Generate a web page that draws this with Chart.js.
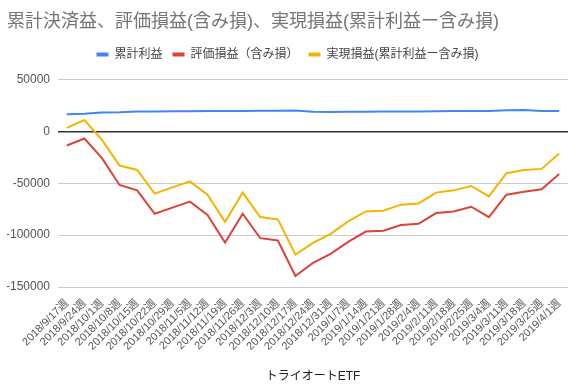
<!DOCTYPE html>
<html>
<head>
<meta charset="utf-8">
<script src="https://cdn.jsdelivr.net/npm/chart.js@4"></script>
<style>
  html, body { margin: 0; padding: 0; background: #fff; }
  #wrap { width: 580px; height: 391px; }
</style>
</head>
<body>
<div id="wrap"><canvas id="chart" width="580" height="391"></canvas></div>
<script>
// Data
const weeks = [
    '2018/9/17週', '2018/9/24週', '2018/10/1週', '2018/10/8週', '2018/10/15週',
    '2018/10/22週', '2018/10/29週', '2018/11/5週', '2018/11/12週', '2018/11/19週',
    '2018/11/26週', '2018/12/3週', '2018/12/10週', '2018/12/17週', '2018/12/24週',
    '2018/12/31週', '2019/1/7週', '2019/1/14週', '2019/1/21週', '2019/1/28週',
    '2019/2/4週', '2019/2/11週', '2019/2/18週', '2019/2/25週', '2019/3/4週',
    '2019/3/11週', '2019/3/18週', '2019/3/25週', '2019/4/1週'
];

const cumulativeProfit = [
    16500, 17000, 18300, 18500, 19200, 19300, 19400, 19500, 19600, 19700,
    19800, 19900, 20000, 20200, 19000, 18800, 18900, 19100, 19300, 19300,
    19300, 19400, 19600, 19700, 19700, 20500, 20600, 19800, 19600
];

const unrealizedLoss = [
    -13500, -6800, -25800, -51600, -56800, -79400, -73500, -67700, -80600, -107100,
    -79400, -102900, -105200, -139400, -126800, -118100, -106500, -96500, -95800, -90300,
    -89000, -78700, -77100, -72600, -82600, -61000, -58100, -55800, -41000
];

const realizedProfit = [
    3500, 11000, -8100, -32900, -37100, -60000, -53900, -48100, -61000, -87100,
    -59000, -82600, -84800, -118700, -107400, -98700, -86800, -77100, -76500, -70600,
    -69400, -59000, -56800, -52600, -62600, -40300, -37100, -36100, -21300
];

const yTicks = [-150000, -100000, -50000, 0, 50000];

const fontFamily = 'Arial, "Liberation Sans", "Noto Sans CJK JP", sans-serif';

function lineSet(label, data, color) {
    return {
        label: label,
        data: data,
        borderColor: color,
        backgroundColor: color,
        borderWidth: 2,
        pointRadius: 0,
        pointHoverRadius: 0,
        tension: 0,
        fill: false
    };
}

// leave some room between the legend and the plot
const legendGap = {
    id: 'legendGap',
    beforeInit(chart) {
        const fit = chart.legend.fit;
        chart.legend.fit = function() {
            fit.call(this);
            this.height += 9;
        };
    }
};

const ctx = document.getElementById('chart').getContext('2d');

new Chart(ctx, {
    type: 'line',
    data: {
        labels: weeks,
        datasets: [
            lineSet('累計利益', cumulativeProfit, '#4285f4'),
            lineSet('評価損益（含み損）', unrealizedLoss, '#db4437'),
            lineSet('実現損益(累計利益ー含み損)', realizedProfit, '#f4b400')
        ]
    },
    plugins: [legendGap],
    options: {
        responsive: false,
        animation: false,
        layout: { padding: { left: 7, right: 12, top: 0, bottom: 0 } },
        plugins: {
            title: {
                display: true,
                text: '累計決済益、評価損益(含み損)、実現損益(累計利益ー含み損)',
                align: 'start',
                color: '#757575',
                font: { family: fontFamily, size: 18, weight: 'normal' },
                padding: { top: 11, bottom: 6 }
            },
            legend: {
                display: true,
                position: 'top',
                labels: {
                    color: '#444',
                    font: { family: fontFamily, size: 12 },
                    boxWidth: 12,
                    boxHeight: 4,
                    padding: 10,
                    generateLabels: function(chart) {
                        const items = Chart.defaults.plugins.legend.labels.generateLabels(chart);
                        items.forEach(item => { item.lineWidth = 0; });
                        return items;
                    }
                }
            },
            tooltip: { enabled: false }
        },
        scales: {
            x: {
                offset: true,
                grid: { display: false },
                border: { display: false },
                ticks: {
                    color: '#555',
                    font: { family: fontFamily, size: 11 },
                    maxRotation: 45,
                    minRotation: 45,
                    autoSkip: false,
                    padding: 2
                },
                title: {
                    display: true,
                    text: 'トライオートETF',
                    color: '#222',
                    font: { family: fontFamily, size: 12 },
                    padding: { top: 0, bottom: 7 }
                },
                afterFit: function(scale) { scale.height = 104; }
            },
            y: {
                min: yTicks[0],
                max: yTicks[yTicks.length - 1],
                afterBuildTicks: function(scale) {
                    scale.ticks = yTicks.map(v => ({ value: v }));
                },
                grid: {
                    drawTicks: false,
                    color: c => (c.tick && c.tick.value === 0 ? '#333' : '#ccc'),
                    lineWidth: c => (c.tick && c.tick.value === 0 ? 1.5 : 1)
                },
                border: { display: false },
                ticks: {
                    color: '#555',
                    font: { family: fontFamily, size: 12 },
                    padding: 8,
                    callback: v => String(v)
                },
                afterFit: function(scale) { scale.width = 51; }
            }
        }
    }
});
</script>
</body>
</html>
